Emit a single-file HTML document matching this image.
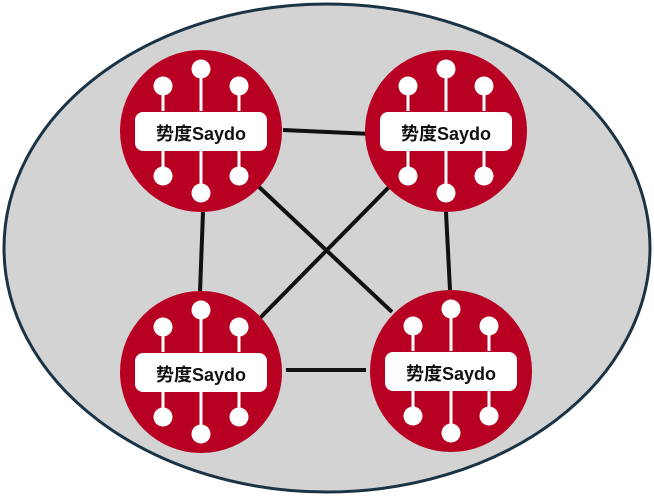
<!DOCTYPE html>
<html><head><meta charset="utf-8"><style>
html,body{margin:0;padding:0;background:#fff;}
svg{display:block}
text{font-family:"Liberation Sans","Noto Sans CJK SC",sans-serif;font-weight:bold;font-size:18px;fill:#111}
</style></head><body>
<svg width="654" height="496" viewBox="0 0 654 496">
<defs>
<g id="n">
<circle r="81" fill="#b70022"/>
<g stroke="#fff" stroke-width="3">
<line x1="0" y1="-60" x2="0" y2="-20"/>
<line x1="-38" y1="-44" x2="-38" y2="-20"/>
<line x1="38" y1="-44" x2="38" y2="-20"/>
<line x1="0" y1="60" x2="0" y2="20"/>
<line x1="-38" y1="44" x2="-38" y2="20"/>
<line x1="38" y1="44" x2="38" y2="20"/>
</g>
<g fill="#fff">
<circle cx="0" cy="-62" r="9.5"/>
<circle cx="-38" cy="-45" r="9.5"/>
<circle cx="38" cy="-45" r="9.5"/>
<circle cx="0" cy="62" r="9.5"/>
<circle cx="-38" cy="45" r="9.5"/>
<circle cx="38" cy="45" r="9.5"/>
<rect x="-66" y="-19" width="132" height="39" rx="8"/>
</g>
</g>
</defs>
<ellipse cx="327" cy="248" rx="323" ry="244" fill="#d3d3d3" stroke="#1a3345" stroke-width="3"/>
<g stroke="#111" stroke-width="4">
<line x1="283" y1="130" x2="372" y2="134"/>
<line x1="203" y1="212" x2="200" y2="292"/>
<line x1="446" y1="212" x2="450" y2="290"/>
<line x1="286" y1="370" x2="366" y2="370"/>
<line x1="258" y1="186" x2="392" y2="312"/>
<line x1="390" y1="186" x2="260" y2="318"/>
</g>
<use href="#n" x="201" y="131"/>
<use href="#n" x="446" y="131"/>
<use href="#n" x="201" y="372"/>
<use href="#n" x="451" y="371"/>
<text x="201" y="140" text-anchor="middle">势度Saydo</text>
<text x="446" y="140" text-anchor="middle">势度Saydo</text>
<text x="201" y="381" text-anchor="middle">势度Saydo</text>
<text x="451" y="380" text-anchor="middle">势度Saydo</text>
</svg>
</body></html>
